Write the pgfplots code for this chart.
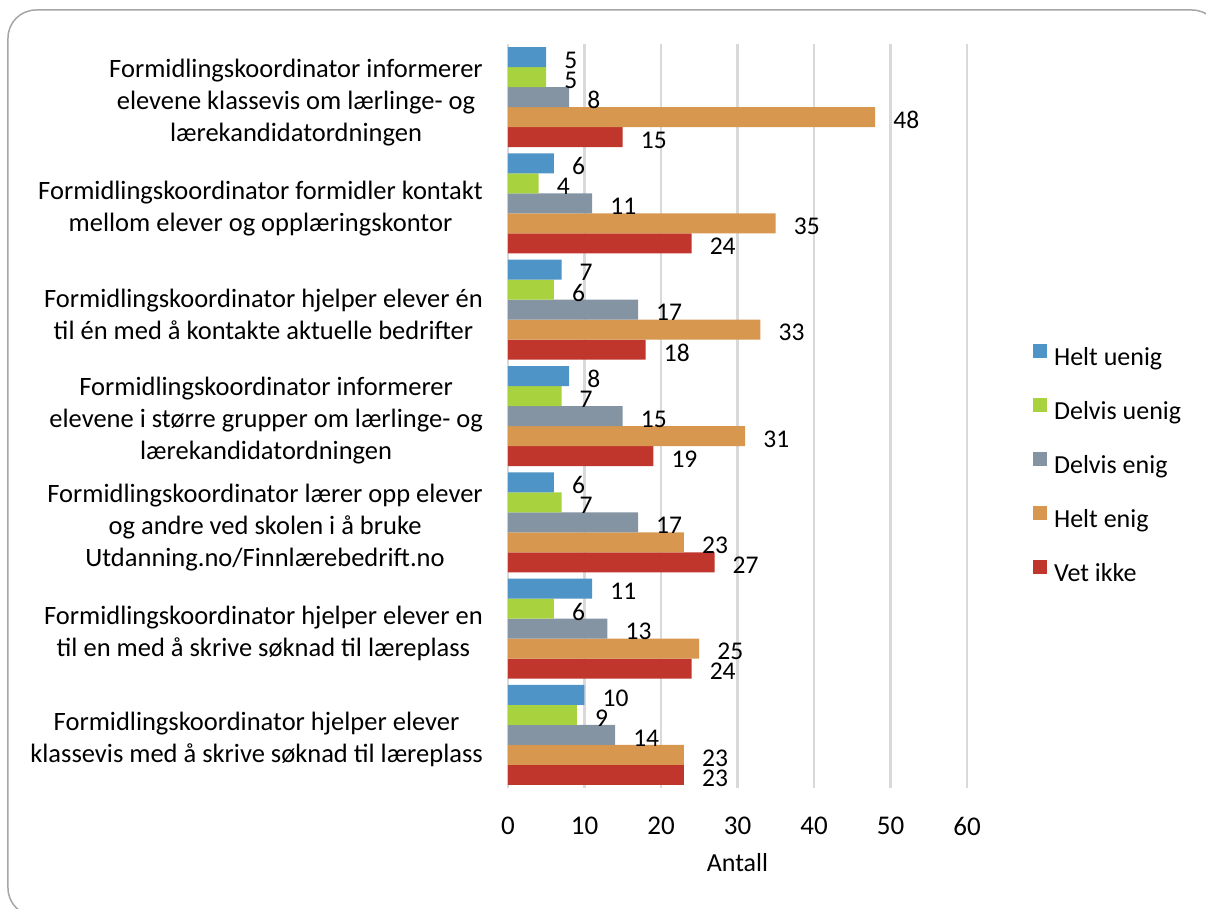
\documentclass[border=0pt]{standalone}
\usepackage{fontspec}
\setmainfont{Carlito}
\usepackage{pgfplots}
\pgfplotsset{compat=1.18}
\definecolor{cA}{HTML}{4F94C6}
\definecolor{cB}{HTML}{A9D23F}
\definecolor{cC}{HTML}{8494A3}
\definecolor{cD}{HTML}{D8974F}
\definecolor{cE}{HTML}{C0352C}
\definecolor{gridc}{HTML}{D9D9D9}
\definecolor{framec}{HTML}{A6A6A6}
\begin{document}
\begin{tikzpicture}
\begin{axis}[
  name=ax, scale only axis,
  width=459pt, height=744pt,
  xmin=0, xmax=60, ymin=0.5, ymax=7.5,
  xbar=0pt, bar width=20pt,
  /pgf/number format/assume math mode=true,
  axis line style={draw=none},
  xmajorgrids, grid style={gridc, line width=2.5pt},
  major tick length=0pt,
  xtick={0,10,...,60},
  ytick={1,...,7},
  yticklabels={
    {Formidlingskoordinator hjelper elever\\klassevis med å skrive søknad til læreplass},
    {Formidlingskoordinator hjelper elever en\\til en med å skrive søknad til læreplass},
    {Formidlingskoordinator lærer opp elever\\og andre ved skolen i å bruke\\Utdanning.no/Finnlærebedrift.no},
    {Formidlingskoordinator informerer\\elevene i større grupper om lærlinge- og\\lærekandidatordningen},
    {Formidlingskoordinator hjelper elever én\\til én med å kontakte aktuelle bedrifter},
    {Formidlingskoordinator formidler kontakt\\mellom elever og opplæringskontor},
    {Formidlingskoordinator informerer\\elevene klassevis om lærlinge- og\\lærekandidatordningen}},
  yticklabel style={font=\fontsize{26.5}{32}\selectfont, align=center, inner sep=0pt, xshift=-25pt, yshift=-5pt},
  xticklabel style={font=\fontsize{27}{30}\selectfont, inner sep=0pt, yshift=-29pt},
  xlabel={Antall},
  xlabel style={font=\fontsize{26}{30}\selectfont, inner sep=0pt, anchor=north, at={(axis description cs:0.5,0)}, yshift=-65pt},
  nodes near coords,
  point meta=x,
  nodes near coords style={font=\fontsize{25.5}{28}\selectfont, anchor=west, inner sep=0pt, xshift=18pt, yshift=-3pt, text=black},
  legend image code/.code={\fill[#1] (0pt,-0.5pt) rectangle (14pt,13.5pt);},
  legend style={at={(axis description cs:1.137,0.5995)}, anchor=north west, draw=none, fill=none,
    font=\fontsize{26}{30}\selectfont, row sep=30.7pt, column sep=7pt, nodes={inner sep=0pt}},
  legend cell align=left,
  reverse legend,
]
\addplot[draw=none, fill=cE] coordinates {(15,7) (24,6) (18,5) (19,4) (27,3) (24,2) (23,1)};
\addplot[draw=none, fill=cD] coordinates {(48,7) (35,6) (33,5) (31,4) (23,3) (25,2) (23,1)};
\addplot[draw=none, fill=cC] coordinates {(8,7) (11,6) (17,5) (15,4) (17,3) (13,2) (14,1)};
\addplot[draw=none, fill=cB] coordinates {(5,7) (4,6) (6,5) (7,4) (7,3) (6,2) (9,1)};
\addplot[draw=none, fill=cA] coordinates {(5,7) (6,6) (7,5) (8,4) (6,3) (11,2) (10,1)};
\legend{Vet ikke, Helt enig, Delvis enig, Delvis uenig, Helt uenig}
\end{axis}
\pgfresetboundingbox
\path[use as bounding box] ([shift={(-508pt,-120pt)}]ax.south west) rectangle ([shift={(698pt,788pt)}]ax.south west);
\draw[framec, line width=1.5pt, rounded corners=28pt] ([shift={(-500pt,778pt)}]ax.south west) rectangle ([shift={(712pt,-128pt)}]ax.south west);
\end{tikzpicture}
\end{document}
